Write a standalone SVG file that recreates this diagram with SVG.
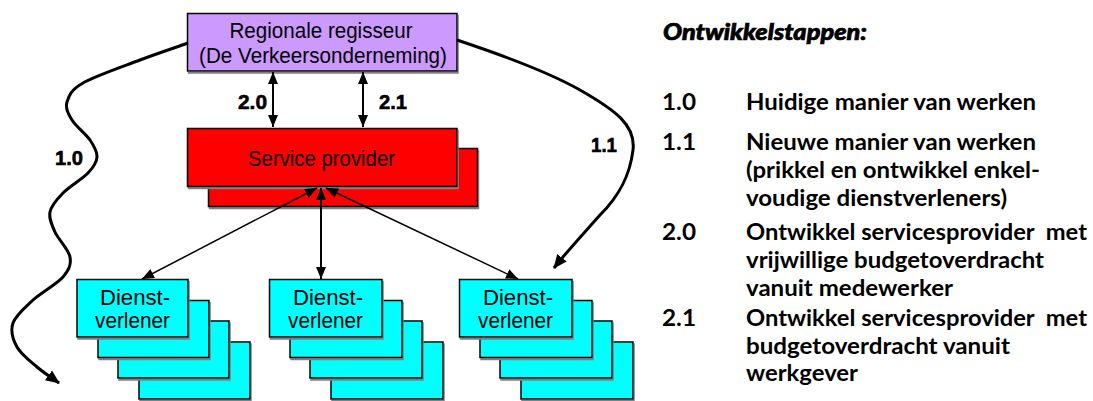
<svg xmlns="http://www.w3.org/2000/svg" width="1093" height="401" viewBox="0 0 1093 401">
  <style>
    .box { stroke: #000; stroke-width: 1.5; filter: url(#shadow); }
    .purple { fill: #CC99FF; }
    .red { fill: #FF0000; }
    .cyan { fill: #00FFFF; }
    .lbl { font-family: "Liberation Sans", Arial, sans-serif; font-size: 22px; fill: #000; text-anchor: middle; }
    .num { font-family: "Liberation Sans", Arial, sans-serif; font-size: 21px; font-weight: bold; fill: #000; stroke: #000; stroke-width: 0.6; }
    .conn { fill: none; stroke: #000; }
    .thin { stroke-width: 1.5; marker-start: url(#tip); marker-end: url(#tip); }
    .mid { stroke-width: 2; marker-start: url(#tip); marker-end: url(#tip); }
    .wave { stroke-width: 3; stroke-linejoin: round; marker-end: url(#tipBig); }
    .side { font-family: Lato, "Open Sans", sans-serif; font-size: 23px; font-weight: bold; fill: #000; white-space: pre; }
    .head { font-style: italic; font-weight: 900; stroke: #000; stroke-width: 0.7; }
  </style>
  <defs>
    <filter id="shadow" x="-10%" y="-10%" width="130%" height="130%">
      <feDropShadow dx="1" dy="2" stdDeviation="0" flood-color="#808080"/>
    </filter>
    <marker id="tip" viewBox="0 0 12 10" refX="12" refY="5" markerWidth="12" markerHeight="10" markerUnits="userSpaceOnUse" orient="auto-start-reverse">
      <path d="M0,0 L12,5 L0,10 z" fill="#000"/>
    </marker>
    <marker id="tipBig" viewBox="0 0 14 12" refX="13" refY="6" markerWidth="14" markerHeight="12" markerUnits="userSpaceOnUse" orient="auto">
      <path d="M0,0 L14,6 L0,12 z" fill="#000"/>
    </marker>
  </defs>

  <rect width="1093" height="401" fill="#fff"/>

  <!-- regional director -->
  <g id="regisseur">
    <rect class="box purple" x="187.5" y="13.5" width="269.5" height="57.5"/>
    <text class="lbl" x="321" y="38" textLength="183" lengthAdjust="spacingAndGlyphs">Regionale regisseur</text>
    <text class="lbl" x="323" y="63" textLength="248" lengthAdjust="spacingAndGlyphs">(De Verkeersonderneming)</text>
  </g>

  <!-- service provider (stack of two) -->
  <g id="service-provider">
    <rect class="box red" x="208.5" y="148.5" width="269" height="58"/>
    <rect class="box red" x="187.5" y="128.5" width="269.5" height="58"/>
    <text class="lbl" x="321.5" y="165.5" textLength="147" lengthAdjust="spacingAndGlyphs">Service provider</text>
  </g>

  <!-- service delivery stacks -->
  <g id="dienstverlener-1">
    <rect class="box cyan" x="139" y="342" width="111" height="57"/>
    <rect class="box cyan" x="118" y="321" width="111" height="57"/>
    <rect class="box cyan" x="98" y="300.5" width="111" height="57"/>
    <rect class="box cyan" x="77" y="279.5" width="111" height="57.5"/>
    <text class="lbl" x="135" y="305" textLength="70" lengthAdjust="spacingAndGlyphs">Dienst-</text>
    <text class="lbl" x="132.5" y="328" textLength="75" lengthAdjust="spacingAndGlyphs">verlener</text>
  </g>
  <g id="dienstverlener-2">
    <rect class="box cyan" x="331" y="342" width="112" height="57"/>
    <rect class="box cyan" x="310" y="321" width="112" height="57"/>
    <rect class="box cyan" x="290" y="300.5" width="112" height="57"/>
    <rect class="box cyan" x="269.5" y="279.5" width="112.5" height="57.5"/>
    <text class="lbl" x="328" y="305" textLength="70" lengthAdjust="spacingAndGlyphs">Dienst-</text>
    <text class="lbl" x="325.5" y="328" textLength="75" lengthAdjust="spacingAndGlyphs">verlener</text>
  </g>
  <g id="dienstverlener-3">
    <rect class="box cyan" x="521" y="342" width="112" height="57"/>
    <rect class="box cyan" x="500" y="321" width="112" height="57"/>
    <rect class="box cyan" x="480" y="300.5" width="112" height="57"/>
    <rect class="box cyan" x="459.5" y="279.5" width="112.5" height="57.5"/>
    <text class="lbl" x="518" y="305" textLength="70" lengthAdjust="spacingAndGlyphs">Dienst-</text>
    <text class="lbl" x="515.5" y="328" textLength="75" lengthAdjust="spacingAndGlyphs">verlener</text>
  </g>

  <!-- connectors, drawn over the boxes -->
  <g id="connectors">
    <!-- 1.0: meandering line down the left side -->
    <path class="conn wave" d="M188,43 C180,46 157.5,53.3 140,60 C122.5,66.7 95.2,76 83,83 C70.8,90 68.8,95.8 67,102 C65.2,108.2 68.2,113.7 72,120 C75.8,126.3 85.8,133.8 90,140 C94.2,146.2 97.3,151.5 97,157 C96.7,162.5 93.7,167 88,173 C82.3,179 69.3,186.5 63,193 C56.7,199.5 51.3,205.5 50,212 C48.7,218.5 51.7,224.5 55,232 C58.3,239.5 68.7,249.5 70,257 C71.3,264.5 69.2,269.8 63,277 C56.8,284.2 41.3,292.3 33,300 C24.7,307.7 15.7,315.2 13,323 C10.3,330.8 13,339.7 17,347 C21,354.3 30,361 37,367 C44,373 51.7,377.7 59,383"/>
    <!-- 1.1: wide arc down the right side -->
    <path class="conn wave" d="M457,40 C490,51 545,70 580,90 C615,110 636,125 633,150 C630,175 620,195 600,215 C585,232 568,250 554,268"/>
    <line class="conn mid" x1="273" y1="72" x2="273" y2="127"/>
    <line class="conn mid" x1="363" y1="72" x2="363" y2="127"/>
    <line class="conn thin" x1="317" y1="188" x2="142" y2="279"/>
    <line class="conn mid" x1="321" y1="188" x2="321" y2="279"/>
    <line class="conn thin" x1="326" y1="188" x2="518" y2="279"/>
    <text class="num" x="238" y="109" textLength="29" lengthAdjust="spacingAndGlyphs">2.0</text>
    <text class="num" x="379" y="109" textLength="28" lengthAdjust="spacingAndGlyphs">2.1</text>
    <text class="num" x="55" y="165" textLength="28" lengthAdjust="spacingAndGlyphs">1.0</text>
    <text class="num" x="591" y="152" textLength="26" lengthAdjust="spacingAndGlyphs">1.1</text>
  </g>

  <!-- legend of development steps -->
  <g id="ontwikkelstappen">
    <text class="side head" x="663" y="40" textLength="204" lengthAdjust="spacingAndGlyphs">Ontwikkelstappen:</text>
    <text class="side" x="662" y="110" textLength="34" lengthAdjust="spacingAndGlyphs">1.0</text>
    <text class="side" x="746" y="110" textLength="290" lengthAdjust="spacingAndGlyphs">Huidige manier van werken</text>
    <text class="side" x="662" y="150" textLength="34" lengthAdjust="spacingAndGlyphs">1.1</text>
    <text class="side" x="746" y="150" textLength="290" lengthAdjust="spacingAndGlyphs">Nieuwe manier van werken</text>
    <text class="side" x="746" y="178" textLength="294" lengthAdjust="spacingAndGlyphs">(prikkel en ontwikkel enkel-</text>
    <text class="side" x="746" y="205.5" textLength="261" lengthAdjust="spacingAndGlyphs">voudige dienstverleners)</text>
    <text class="side" x="662" y="239.5" textLength="34" lengthAdjust="spacingAndGlyphs">2.0</text>
    <text class="side" x="746" y="239.5" textLength="341" lengthAdjust="spacingAndGlyphs">Ontwikkel servicesprovider  met</text>
    <text class="side" x="746" y="268" textLength="298" lengthAdjust="spacingAndGlyphs">vrijwillige budgetoverdracht</text>
    <text class="side" x="746" y="296" textLength="207" lengthAdjust="spacingAndGlyphs">vanuit medewerker</text>
    <text class="side" x="662" y="326" textLength="34" lengthAdjust="spacingAndGlyphs">2.1</text>
    <text class="side" x="746" y="326" textLength="341" lengthAdjust="spacingAndGlyphs">Ontwikkel servicesprovider  met</text>
    <text class="side" x="746" y="353.5" textLength="264" lengthAdjust="spacingAndGlyphs">budgetoverdracht vanuit</text>
    <text class="side" x="746" y="381" textLength="112" lengthAdjust="spacingAndGlyphs">werkgever</text>
  </g>
</svg>
